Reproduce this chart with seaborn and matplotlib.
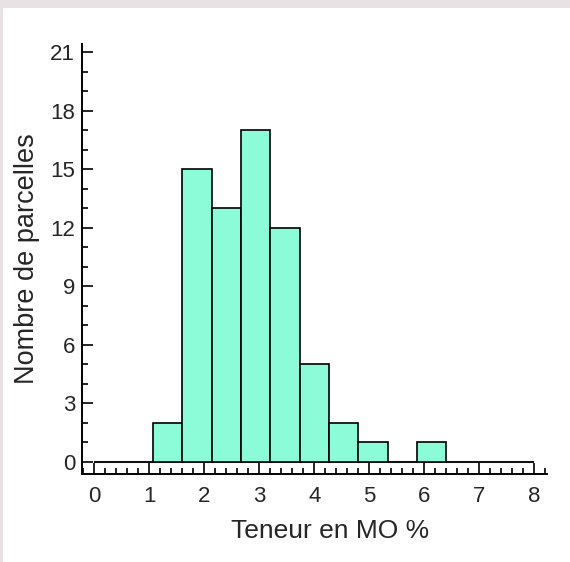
import numpy as np
import pandas as pd
import matplotlib
matplotlib.use("Agg")
import matplotlib.pyplot as plt
import seaborn as sns
from matplotlib.patches import Rectangle
from matplotlib.ticker import MultipleLocator

# histogram data: 15 bins between 0 and 8 (width 8/15)
bin_range = (0, 8)
n_bins = 15
counts = [0, 0, 2, 15, 13, 17, 12, 5, 2, 1, 0, 1, 0, 0, 0]
bin_edges = np.linspace(bin_range[0], bin_range[1], n_bins + 1)
bin_centers = (bin_edges[:-1] + bin_edges[1:]) / 2

x_label = "Teneur en MO %"
y_label = "Nombre de parcelles"

hist_df = pd.DataFrame({"mo": bin_centers, "n": counts})

sns.set_style("ticks")
plt.rcParams["font.family"] = ["Liberation Sans", "DejaVu Sans"]

fig = plt.figure(figsize=(5.7, 5.62), dpi=100, facecolor="#e8e2e4")
# white page with a thin greyish border strip at top and left
fig.add_artist(Rectangle((3 / 570, 0), 1, 1 - 8 / 562, transform=fig.transFigure,
                         facecolor="white", edgecolor="none", zorder=-10))
ax = fig.add_axes([0.1439, 0.1566, 0.8158, 0.765])
ax.set_facecolor("none")

sns.histplot(data=hist_df, x="mo", weights="n", bins=n_bins, binrange=bin_range, ax=ax,
             color="#8cfcd8", alpha=1, edgecolor="black", linewidth=1.2, zorder=3)
# grey baseline under the bars
ax.hlines(0, bin_range[0], bin_range[1], color="#666666", linewidth=1.5, zorder=2)

ax.set_xlim(-0.224, 8.23)
ax.set_ylim(-0.615, 21.41)
ax.xaxis.set_major_locator(MultipleLocator(1))
ax.xaxis.set_minor_locator(MultipleLocator(0.2))
ax.yaxis.set_major_locator(MultipleLocator(3))
ax.yaxis.set_minor_locator(MultipleLocator(1))
ax.tick_params(which="both", direction="in", color="black", width=1.2)
ax.tick_params(which="major", length=8, labelsize=16)
ax.tick_params(axis="x", which="major", pad=9)
ax.tick_params(axis="y", which="major", pad=5)
ax.tick_params(which="minor", length=4.5)
for s in ["top", "right"]:
    ax.spines[s].set_visible(False)
for s in ["left", "bottom"]:
    ax.spines[s].set_color("black")
    ax.spines[s].set_linewidth(1.4)

ax.set_xlabel(x_label, fontsize=19)
ax.xaxis.set_label_coords(0.533, -0.105)
ax.set_ylabel(y_label, fontsize=19.5, labelpad=7)

fig.savefig("out.png", dpi=100, facecolor=fig.get_facecolor())
